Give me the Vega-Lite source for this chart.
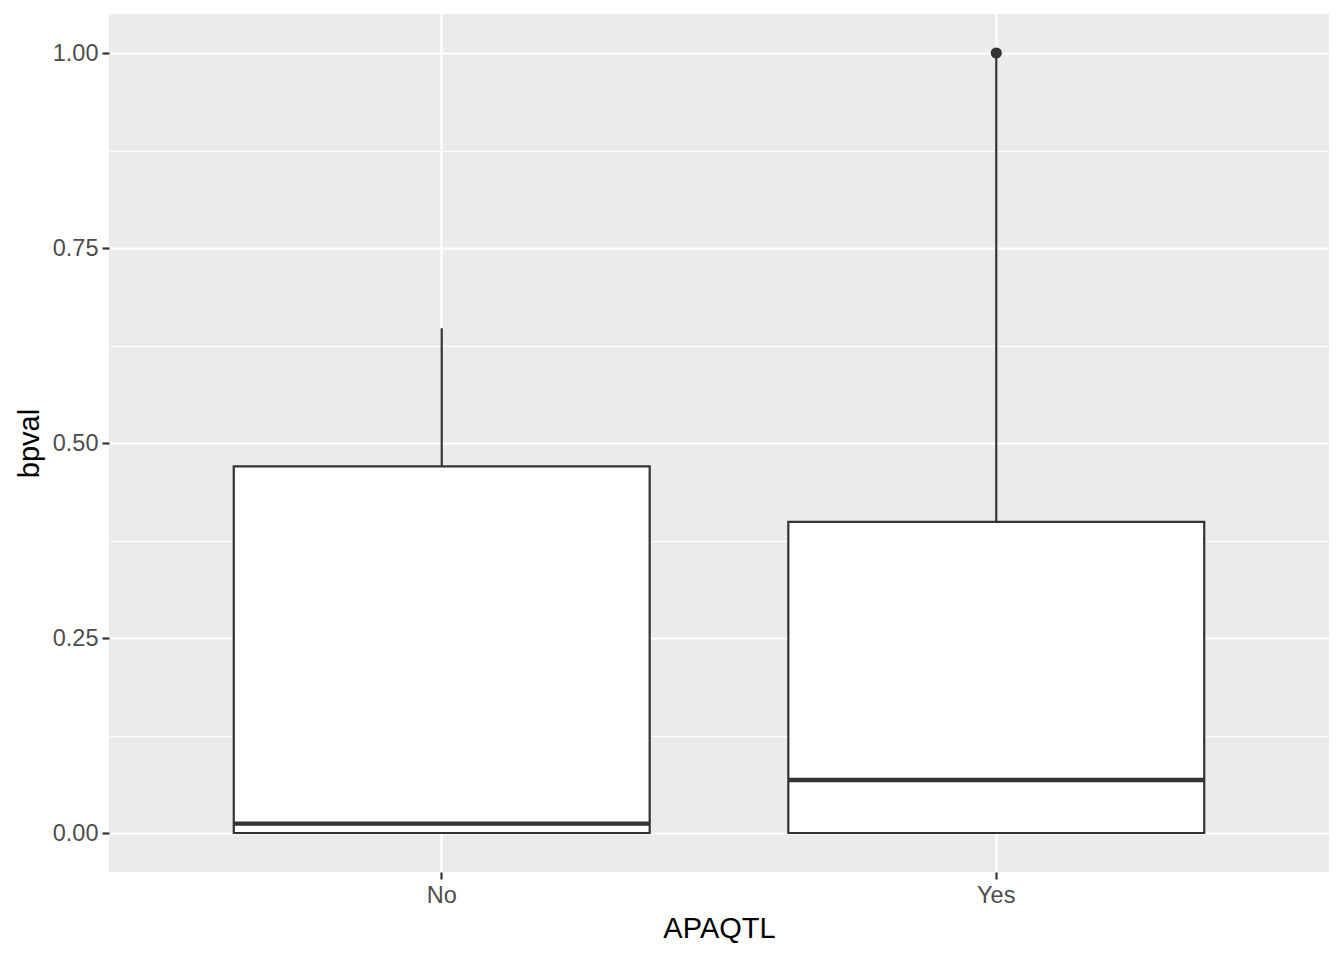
{
  "$schema": "https://vega.github.io/schema/vega-lite/v6.json",
  "width": 1220,
  "height": 858,
  "autosize": {"type": "none"},
  "padding": {"left": 109, "top": 14, "right": 15, "bottom": 88},
  "background": "white",
  "config": {
    "view": {"fill": "#EBEBEB", "stroke": null},
    "font": "Liberation Sans",
    "axis": {
      "domain": false,
      "gridColor": "white",
      "gridWidth": 2.2,
      "tickColor": "#333333",
      "tickWidth": 2.2,
      "tickSize": 7,
      "labelColor": "#4D4D4D",
      "labelFontSize": 23.5,
      "labelFont": "Liberation Sans",
      "titleFont": "Liberation Sans",
      "titleFontSize": 29,
      "titleFontWeight": "normal",
      "titleColor": "black"
    }
  },
  "datasets": {
    "stats": [
      {"APAQTL": "No", "lower": 0, "q1": 0, "median": 0.012, "q3": 0.47, "upper": 0.647},
      {"APAQTL": "Yes", "lower": 0, "q1": 0, "median": 0.068, "q3": 0.399, "upper": 1.0}
    ],
    "outliers": [
      {"APAQTL": "Yes", "bpval": 1.0}
    ]
  },
  "data": {"name": "stats"},
  "encoding": {
    "x": {
      "field": "APAQTL",
      "type": "nominal",
      "scale": {"domain": ["No", "Yes"], "paddingInner": 0.25, "paddingOuter": 0.225},
      "axis": {"title": "APAQTL", "labelAngle": 0, "labelPadding": 4, "titlePadding": 8, "grid": true}
    }
  },
  "layer": [
    {
      "mark": {"type": "rule", "color": "#333333", "strokeWidth": 2.2},
      "encoding": {
        "y": {
          "field": "lower",
          "type": "quantitative",
          "scale": {"domain": [-0.05, 1.05], "nice": false, "zero": false},
          "axis": {
            "title": "bpval",
            "values": [0, 0.125, 0.25, 0.375, 0.5, 0.625, 0.75, 0.875, 1],
            "labelExpr": "(datum.value * 4) % 1 === 0 ? format(datum.value, '.2f') : ''",
            "gridWidth": {"condition": {"test": "(datum.value * 4) % 1 !== 0", "value": 1.1}, "value": 2.2},
            "tickOpacity": {"condition": {"test": "(datum.value * 4) % 1 !== 0", "value": 0}, "value": 1},
            "labelPadding": 4,
            "titlePadding": 8
          }
        },
        "y2": {"field": "upper"}
      }
    },
    {
      "mark": {"type": "bar", "fill": "white", "stroke": "#333333", "strokeWidth": 2.2},
      "encoding": {
        "y": {"field": "q1", "type": "quantitative"},
        "y2": {"field": "q3"}
      }
    },
    {
      "mark": {"type": "tick", "color": "#333333", "opacity": 1, "size": 416, "thickness": 4.4, "orient": "horizontal"},
      "encoding": {
        "y": {"field": "median", "type": "quantitative"}
      }
    },
    {
      "data": {"name": "outliers"},
      "mark": {"type": "point", "filled": true, "color": "#333333", "opacity": 1, "size": 125},
      "encoding": {
        "y": {"field": "bpval", "type": "quantitative"}
      }
    }
  ]
}
